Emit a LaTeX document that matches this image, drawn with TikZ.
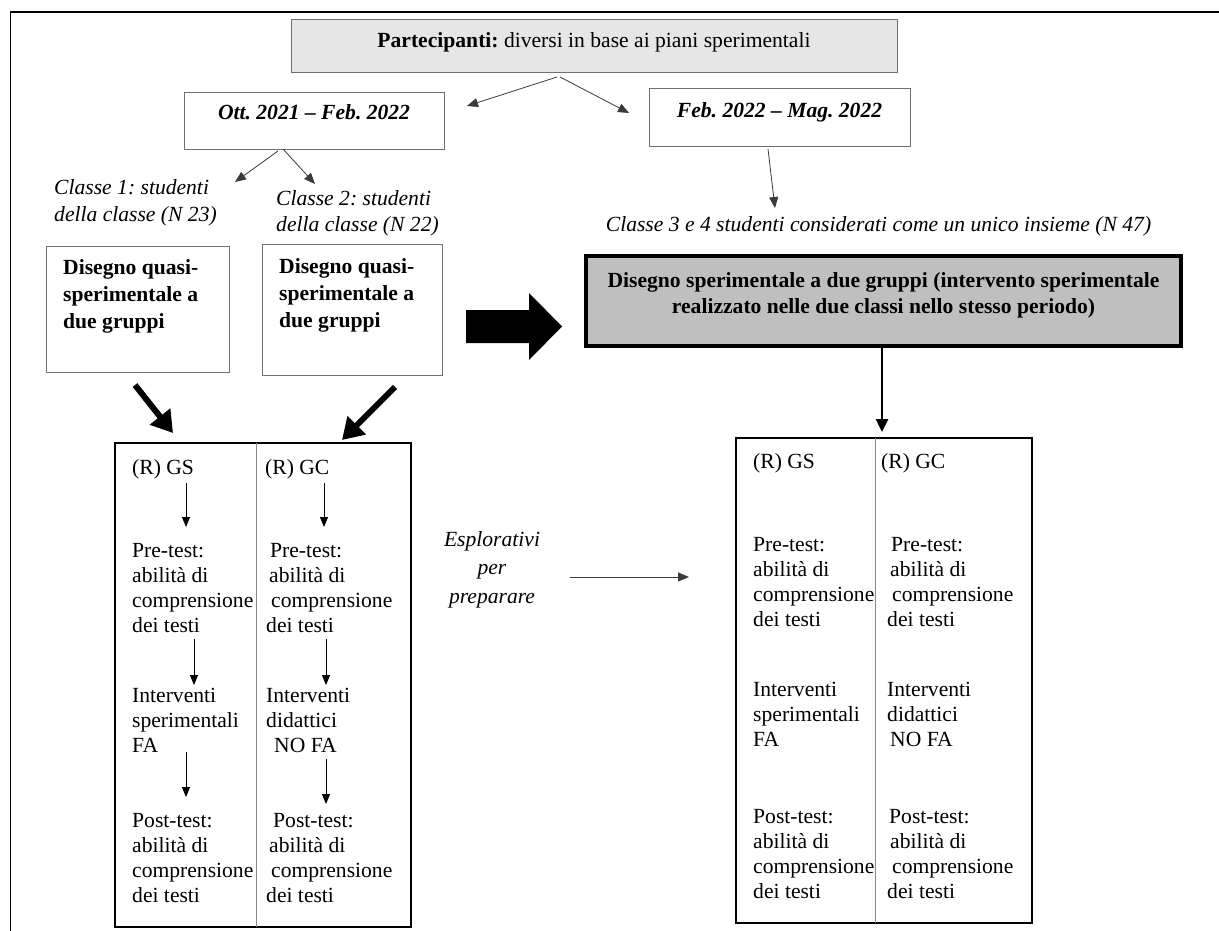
\documentclass[tikz,border=0pt]{standalone}
\usepackage{fontspec}
\setmainfont{Liberation Serif}
\usetikzlibrary{arrows.meta}
\frenchspacing
\definecolor{boxline}{HTML}{707070}
\definecolor{partfill}{HTML}{E6E6E6}
\definecolor{designfill}{HTML}{BFBFBF}
\definecolor{thinline}{HTML}{3A3A3A}
\definecolor{divline}{HTML}{8A8A8A}
\newcommand\diagsize{\fontsize{21.6}{25.2}\selectfont\frenchspacing}
\newcommand\diagsizewide{\fontsize{21.6}{27}\selectfont\frenchspacing}
\tikzset{
  txt/.style={font=\diagsize, inner sep=0pt, align=left},
  txtwide/.style={font=\diagsizewide, inner sep=0pt, align=left},
  plainbox/.style={draw=boxline, line width=0.9pt, inner sep=0pt},
  partbox/.style={plainbox, fill=partfill},
  designbox/.style={draw=black, line width=4pt, fill=designfill, inner sep=0pt},
  tablebox/.style={draw=black, line width=2pt, inner sep=0pt},
  divider/.style={draw=divline, line width=1pt},
  thinarrow/.style={draw=thinline, line width=0.8pt, -{Triangle[length=11pt,width=9pt]}},
  steparrow/.style={draw=black, line width=1pt, -{Triangle[length=10pt,width=8pt]}},
  midarrow/.style={draw=black, line width=2.5pt, -{Triangle[length=13pt,width=12pt]}},
  fatarrow/.style={draw=black, line width=6pt, -{Triangle[length=21pt,width=25pt]}},
}
\begin{document}
\begin{tikzpicture}[x=1pt,y=-1pt]
\useasboundingbox (0,0) rectangle (1219,931);

% outer frame (top and left sides)
\draw[line width=1.5pt] (10.5,931) -- (10.5,12) -- (1219,12);

% participants
\node[partbox, minimum width=606pt, minimum height=53pt] (part) at (594,45.5) {};
\node[txt, anchor=base] (partT) at (594,48) {\textbf{Partecipanti:} diversi in base ai piani sperimentali};

% periods
\node[plainbox, minimum width=260pt, minimum height=57pt] (ott) at (314,120.5) {};
\node[txt, anchor=base, font=\diagsize\bfseries\itshape] (ottT) at (314,120) {Ott. 2021 – Feb. 2022};
\node[plainbox, minimum width=261pt, minimum height=58pt] (feb) at (779.5,117) {};
\node[txt, anchor=base, font=\diagsize\bfseries\itshape] (febT) at (779.5,117.5) {Feb. 2022 – Mag. 2022};

\coordinate (pL) at (557,77);  \coordinate (pLe) at (467,106);
\coordinate (pR) at (560,77);  \coordinate (pRe) at (629,113);
\draw[thinarrow] (pL) -- (pLe);
\draw[thinarrow] (pR) -- (pRe);

\coordinate (oL) at (278,151); \coordinate (oLe) at (235,182);
\coordinate (oR) at (283,149); \coordinate (oRe) at (315,184);
\draw[thinarrow] (oL) -- (oLe);
\draw[thinarrow] (oR) -- (oRe);

\coordinate (fS) at (768,149); \coordinate (fSe) at (775,208);
\draw[thinarrow] (fS) -- (fSe);

% class labels (multi-line nodes are anchored on their last baseline)
\node[txtwide, anchor=base west, font=\diagsizewide\itshape] (cl1) at (54,222) {Classe 1: studenti\\della classe (N 23)};
\node[txtwide, anchor=base west, font=\diagsizewide\itshape] (cl2) at (276,232) {Classe 2: studenti\\della classe (N 22)};
\node[txt, anchor=base, font=\diagsize\itshape] (cl34) at (878.5,231) {Classe 3 e 4 studenti considerati come un unico insieme (N 47)};

% quasi-experimental designs
\node[plainbox, minimum width=183pt, minimum height=126pt] (d1) at (137.5,309) {};
\node[txtwide, anchor=base west, font=\diagsizewide\bfseries] (d1T) at (63,328) {Disegno quasi-\\sperimentale a\\due gruppi};
\node[plainbox, minimum width=180pt, minimum height=131pt] (d2) at (352,309.5) {};
\node[txtwide, anchor=base west, font=\diagsizewide\bfseries] (d2T) at (279,327) {Disegno quasi-\\sperimentale a\\due gruppi};

% block arrow towards the experimental design
\fill[black] (466,310) -- (529,310) -- (529,293) -- (562,326.5) -- (529,360) -- (529,343) -- (466,343) -- cycle;

% experimental design
\node[designbox, minimum width=595pt, minimum height=90pt] (design) at (883.5,301) {};
\node[txt, anchor=base, align=center, font=\diagsize\bfseries] (designT) at (883.5,313) {Disegno sperimentale a due gruppi (intervento sperimentale\\realizzato nelle due classi nello stesso periodo)};

% tables
\node[tablebox, minimum width=296pt, minimum height=484pt] (ltab) at (263,685) {};
\draw[divider] (256,443) -- (256,927);
\node[tablebox, minimum width=296pt, minimum height=485pt] (rtab) at (884,680.5) {};
\draw[divider] (875,438) -- (875,923);

\draw[midarrow, shorten >=5pt] (design.south -| 882,0) -- (rtab.north -| 882,0);

% fat arrows into the left table
\coordinate (fa1) at (135,385); \coordinate (fa1e) at (173,433);
\coordinate (fa2) at (395,387); \coordinate (fa2e) at (342,440);
\draw[fatarrow] (fa1) -- (fa1e);
\draw[fatarrow] (fa2) -- (fa2e);

% left table, experimental group
\node[txt, anchor=base west] (lgs) at (132,474) {(R) GS};
\node[txt, anchor=base west] (lpre) at (132,632.6) {Pre-test:\\abilità di\\comprensione\\dei testi};
\node[txt, anchor=base west] (lint) at (132,752.4) {Interventi\\sperimentali\\FA};
\node[txt, anchor=base west] (lpost) at (132,902.6) {Post-test:\\abilità di\\comprensione\\dei testi};
% left table, control group
\node[txt, anchor=base west] (lgc) at (265,474) {(R) GC};
\node[txt, anchor=base west] (lpreC) at (266,632.6) {\hspace*{4pt}Pre-test:\\\hspace*{3pt}abilità di\\\hspace*{5pt}comprensione\\dei testi};
\node[txt, anchor=base west] (lintC) at (266,752.4) {Interventi\\didattici\\\hspace*{8pt}NO FA};
\node[txt, anchor=base west] (lpostC) at (266,902.6) {\hspace*{7pt}Post-test:\\\hspace*{3pt}abilità di\\\hspace*{5pt}comprensione\\dei testi};

\coordinate (ga1) at (186,483); \coordinate (ga1e) at (186,527);
\coordinate (ga2) at (194,639); \coordinate (ga2e) at (194,685);
\coordinate (ga3) at (186,752); \coordinate (ga3e) at (186,797);
\coordinate (gc1) at (324,483); \coordinate (gc1e) at (324,527);
\coordinate (gc2) at (326,639); \coordinate (gc2e) at (326,685);
\coordinate (gc3) at (326,759); \coordinate (gc3e) at (326,804);
\draw[steparrow] (ga1) -- (ga1e);
\draw[steparrow] (ga2) -- (ga2e);
\draw[steparrow] (ga3) -- (ga3e);
\draw[steparrow] (gc1) -- (gc1e);
\draw[steparrow] (gc2) -- (gc2e);
\draw[steparrow] (gc3) -- (gc3e);

% link between the two studies
\node[txt, anchor=base, align=center, font=\fontsize{21.6}{28.5}\selectfont\itshape] (expl) at (492,603) {Esplorativi\\per\\preparare};
\coordinate (ex) at (570,577); \coordinate (exe) at (689,577);
\draw[thinarrow] (ex) -- (exe);

% right table, experimental group
\node[txt, anchor=base west] (rgs) at (753,468) {(R) GS};
\node[txt, anchor=base west] (rpre) at (753,626.6) {Pre-test:\\abilità di\\comprensione\\dei testi};
\node[txt, anchor=base west] (rint) at (753,746.4) {Interventi\\sperimentali\\FA};
\node[txt, anchor=base west] (rpost) at (753,898.6) {Post-test:\\abilità di\\comprensione\\dei testi};
% right table, control group
\node[txt, anchor=base west] (rgc) at (881,468) {(R) GC};
\node[txt, anchor=base west] (rpreC) at (887,626.6) {\hspace*{4pt}Pre-test:\\\hspace*{3pt}abilità di\\\hspace*{5pt}comprensione\\dei testi};
\node[txt, anchor=base west] (rintC) at (887,746.4) {Interventi\\didattici\\\hspace*{3pt}NO FA};
\node[txt, anchor=base west] (rpostC) at (887,898.6) {\hspace*{2pt}Post-test:\\\hspace*{3pt}abilità di\\\hspace*{5pt}comprensione\\dei testi};
\end{tikzpicture}
\end{document}
